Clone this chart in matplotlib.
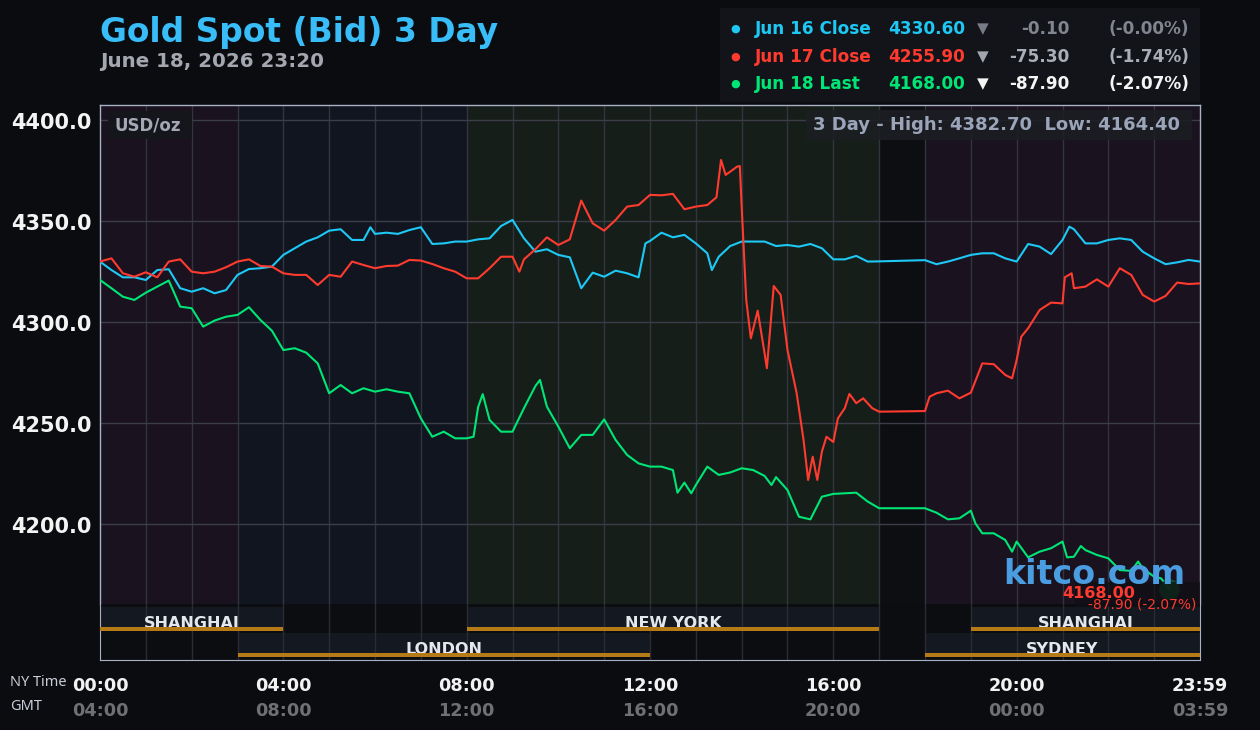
import numpy as np
import matplotlib
matplotlib.use('Agg')
import matplotlib.pyplot as plt
import matplotlib.transforms as mtransforms
from matplotlib.patches import Rectangle

# %%
# Data (hours NY time, USD/oz)
jun16_t = [0, 0.25, 0.5, 0.75, 1.0, 1.25, 1.5, 1.75, 2.0, 2.25, 2.5, 2.75, 3.0, 3.25, 3.5, 3.75,
           4.0, 4.25, 4.5, 4.75, 5.0, 5.25, 5.5, 5.75, 5.9, 6.0,
           6.25, 6.5, 6.75, 7.0, 7.25, 7.5, 7.75, 8.0, 8.25, 8.5, 8.75, 9.0, 9.25, 9.5, 9.75,
           10.0, 10.25, 10.5, 10.75, 11.0, 11.25, 11.5, 11.75, 11.9, 12.0,
           12.25, 12.5, 12.75, 13.0, 13.25, 13.35, 13.5, 13.75, 14.0, 14.25, 14.5, 14.75, 15.0,
           15.25, 15.5, 15.75, 16.0, 16.25, 16.5, 16.75, 17.0, 18.0,
           18.25, 18.5, 18.75, 19.0, 19.25, 19.5, 19.75, 20.0, 20.25, 20.5, 20.75, 21.0, 21.15,
           21.25, 21.5, 21.75, 22.0, 22.25, 22.5, 22.75, 23.0, 23.25, 23.5, 23.75, 24.0]
jun16_price = [4329.9, 4325.7, 4322.1, 4322.1, 4320.8, 4325.7, 4326.1, 4316.7, 4315.0, 4316.7, 4314.2, 4315.8, 4323.3, 4326.2, 4326.6, 4327.4,
               4333.2, 4336.5, 4339.8, 4341.9, 4345.2, 4345.9, 4340.6, 4340.6, 4346.9, 4343.6,
               4344.2, 4343.6, 4345.5, 4346.9, 4338.6, 4338.9, 4339.8, 4339.8, 4340.9, 4341.4, 4347.5, 4350.5, 4341.4, 4334.8, 4336.0,
               4333.2, 4332.0, 4316.7, 4324.4, 4322.4, 4325.4, 4324.1, 4322.1, 4338.9, 4340.1,
               4344.2, 4341.9, 4343.1, 4338.9, 4334.0, 4325.7, 4332.3, 4337.6, 4339.8, 4339.8, 4339.8, 4337.6, 4338.1,
               4337.3, 4338.6, 4336.5, 4331.0, 4331.0, 4332.7, 4329.9, 4330.0, 4330.6,
               4328.6, 4329.9, 4331.5, 4333.2, 4334.0, 4334.0, 4331.5, 4329.9, 4338.6, 4337.3, 4333.6, 4340.6, 4347.2,
               4345.9, 4338.9, 4338.9, 4340.6, 4341.4, 4340.6, 4334.8, 4331.5, 4328.6, 4329.5, 4330.7, 4329.9]

jun17_t = [0, 0.25, 0.5, 0.75, 1.0, 1.25, 1.5, 1.75, 2.0, 2.25, 2.5, 2.75, 3.0, 3.25, 3.5, 3.75,
           4.0, 4.25, 4.5, 4.75, 5.0, 5.25, 5.5, 5.75, 6.0,
           6.25, 6.5, 6.75, 7.0, 7.25, 7.5, 7.75, 8.0, 8.25, 8.5, 8.75, 9.0, 9.15, 9.25, 9.5, 9.75,
           10.0, 10.25, 10.5, 10.75, 11.0, 11.25, 11.5, 11.75, 12.0,
           12.25, 12.5, 12.75, 13.0, 13.25, 13.45, 13.55, 13.65, 13.75, 13.9, 13.96, 14.0, 14.1, 14.2,
           14.35, 14.5, 14.55, 14.7, 14.85, 15.0, 15.2, 15.35, 15.45, 15.55, 15.65, 15.75, 15.85,
           16.0, 16.1, 16.25, 16.35, 16.5, 16.65, 16.85, 17.0, 18.0,
           18.1, 18.25, 18.5, 18.75, 19.0, 19.25, 19.5, 19.75, 19.9, 20.0, 20.1, 20.25, 20.5, 20.75,
           21.0, 21.05, 21.2, 21.25, 21.5, 21.75, 22.0, 22.25, 22.5, 22.75, 23.0, 23.25, 23.5, 23.75, 24.0]
jun17_price = [4329.9, 4331.5, 4324.1, 4322.4, 4324.6, 4322.1, 4329.9, 4331.0, 4324.9, 4324.1, 4324.9, 4327.1, 4329.9, 4331.0, 4327.7, 4327.4,
               4324.1, 4323.3, 4323.3, 4318.3, 4323.3, 4322.4, 4329.9, 4328.2, 4326.6,
               4327.7, 4327.9, 4330.7, 4330.4, 4328.7, 4326.6, 4324.9, 4321.6, 4321.6, 4326.6, 4332.3, 4332.3, 4324.9, 4331.0, 4336.0, 4341.9,
               4338.1, 4340.9, 4360.1, 4348.8, 4345.2, 4350.5, 4357.1, 4357.9, 4362.9,
               4362.7, 4363.4, 4355.8, 4357.1, 4357.9, 4361.7, 4380.2, 4372.8, 4374.4, 4376.9, 4377.2, 4357.1, 4310.9, 4291.9,
               4305.6, 4284.5, 4277.1, 4317.8, 4313.4, 4286.1, 4264.7, 4241.6, 4221.8, 4233.3, 4221.8, 4235.8, 4243.2,
               4240.6, 4252.3, 4257.3, 4264.4, 4259.8, 4262.2, 4257.3, 4255.6, 4255.9,
               4263.0, 4264.7, 4266.0, 4262.2, 4265.0, 4279.5, 4279.1, 4273.8, 4272.1, 4281.2, 4292.7, 4296.9, 4305.9, 4309.6,
               4309.2, 4322.1, 4324.1, 4316.7, 4317.5, 4321.1, 4317.5, 4326.6, 4323.3, 4313.4, 4310.1, 4312.9, 4319.5, 4318.8, 4319.1]

jun18_t = [0, 0.25, 0.5, 0.75, 1.0, 1.25, 1.5, 1.75, 2.0, 2.25, 2.5, 2.75, 3.0, 3.25, 3.5, 3.75,
           4.0, 4.25, 4.5, 4.75, 5.0, 5.25, 5.5, 5.75, 6.0,
           6.25, 6.5, 6.75, 7.0, 7.25, 7.5, 7.75, 8.0, 8.15, 8.25, 8.35, 8.5, 8.75, 9.0, 9.25, 9.5, 9.6, 9.75,
           10.0, 10.25, 10.5, 10.75, 11.0, 11.25, 11.5, 11.75, 12.0,
           12.25, 12.5, 12.6, 12.75, 12.9, 13.0, 13.25, 13.5, 13.75, 14.0, 14.25, 14.5, 14.65, 14.75,
           15.0, 15.25, 15.4, 15.5, 15.75, 16.0, 16.25, 16.5, 16.75, 17.0, 18.0,
           18.25, 18.5, 18.75, 19.0, 19.1, 19.25, 19.5, 19.75, 19.9, 20.0, 20.25, 20.5, 20.75,
           21.0, 21.1, 21.25, 21.4, 21.5, 21.75, 22.0, 22.25, 22.5, 22.65, 22.75, 23.0, 23.15, 23.33]
jun18_price = [4320.8, 4316.7, 4312.5, 4310.9, 4314.5, 4317.5, 4320.5, 4307.6, 4306.8, 4297.7, 4300.7, 4302.6, 4303.5, 4307.3, 4301.0, 4295.7,
               4286.1, 4287.0, 4284.8, 4279.5, 4264.7, 4268.8, 4264.7, 4267.2, 4265.5,
               4266.7, 4265.5, 4264.7, 4252.3, 4243.2, 4245.7, 4242.4, 4242.4, 4243.2, 4257.9, 4264.3, 4251.5, 4245.7, 4245.7, 4257.3, 4268.3, 4271.3, 4258.1,
               4248.2, 4237.5, 4244.1, 4244.1, 4251.8, 4241.6, 4234.2, 4230.0, 4228.4,
               4228.4, 4226.7, 4215.5, 4220.5, 4215.2, 4219.3, 4228.4, 4224.3, 4225.5, 4227.6, 4226.7, 4223.8, 4219.3, 4223.2,
               4216.8, 4203.6, 4202.8, 4202.3, 4213.5, 4214.9, 4215.2, 4215.5, 4211.1, 4207.8, 4207.8,
               4205.6, 4202.3, 4202.8, 4206.6, 4200.3, 4195.4, 4195.4, 4192.1, 4186.3, 4191.3, 4183.5, 4186.3, 4188.0,
               4191.3, 4183.5, 4183.8, 4189.1, 4187.1, 4184.7, 4183.0, 4177.2, 4176.8, 4181.4, 4178.1, 4173.9, 4173.1, 4168.0]

legend_labels = ['Jun 16 Close', 'Jun 17 Close', 'Jun 18 Last']
legend_values = ['4330.60', '4255.90', '4168.00']
legend_changes = ['-0.10', '-75.30', '-87.90']
legend_pcts = ['(-0.00%)', '(-1.74%)', '(-2.07%)']

y_ticks = [4200, 4250, 4300, 4350, 4400]
ny_hours = [0, 4, 8, 12, 16, 20, 24]
ny_labels = ['00:00', '04:00', '08:00', '12:00', '16:00', '20:00', '23:59']
gmt_labels = ['04:00', '08:00', '12:00', '16:00', '20:00', '00:00', '03:59']

# background bands (start, end)
bands = [(0, 3, '#1a121f'), (3, 8, '#11151f'), (8, 17, '#161e19'), (17, 18, '#0d0e12'), (18, 24, '#1a121f')]
# sessions: (name, start, end, row)
sessions = [('SHANGHAI', 0, 4, 0), ('NEW YORK', 8, 17, 0), ('SHANGHAI', 19, 24, 0),
            ('LONDON', 3, 12, 1), ('SYDNEY', 18, 24, 1)]

# %%
plt.rcParams['font.family'] = ['DejaVu Sans']
W, H = 1260, 730
BG = '#0b0c10'
CYAN, RED, GREEN = '#1ec8f5', '#ff3b30', '#00e676'
BORDER = '#a9b1c6'

fig = plt.figure(figsize=(W / 100, H / 100), dpi=100)
fig.patch.set_facecolor(BG)

def fx(px):
    return px / W

def fy(py):
    return 1 - py / H

ax = fig.add_axes([fx(100), fy(604), 1100 / W, 499 / H])
sx = fig.add_axes([fx(100), fy(660), 1100 / W, 56 / H], sharex=ax)

# price panel
ax.set_facecolor('#0d0e12')
for a, b, c in bands:
    ax.axvspan(a, b, color=c, zorder=0, lw=0)
ax.set_xlim(0, 24)
ax.set_ylim(4160.4, 4407.4)
for h in range(1, 24):
    ax.axvline(h, color='#33353e', lw=1, zorder=1)
for v in y_ticks:
    ax.axhline(v, color='#3b3e48', lw=1, zorder=1)

ax.plot(jun16_t, jun16_price, color=CYAN, lw=1.5, zorder=3)
ax.plot(jun17_t, jun17_price, color=RED, lw=1.5, zorder=3)
ax.plot(jun18_t, jun18_price, color=GREEN, lw=1.5, zorder=3)
ax.scatter([jun18_t[-1]], [jun18_price[-1]], s=220, color='#0e5a2c', alpha=0.85, zorder=4, lw=0)

# y labels sit a few pixels below their grid line in the original
ylab_tr = ax.get_yaxis_transform()
for v in y_ticks:
    ax.annotate(f'{v:.1f}', (0, v), xycoords=ylab_tr, xytext=(-8, -3), textcoords='offset pixels',
                ha='right', va='center', fontsize=15, fontweight='bold', color='#f4f4f4',
                annotation_clip=False)
ax.set_yticks([])
ax.tick_params(axis='x', bottom=False, labelbottom=False)
for side in ['left', 'right', 'top']:
    ax.spines[side].set_color(BORDER)
    ax.spines[side].set_linewidth(1)
ax.spines['bottom'].set_visible(False)

# session panel
sx.set_facecolor('#0c0d11')
sx.set_ylim(56, 0)
sx.set_yticks([])
sx.tick_params(axis='x', bottom=False, labelbottom=False)
for name, a, b, row in sessions:
    top = 3 + row * 26
    sx.add_patch(Rectangle((a, top), b - a, 24, color='#141821', lw=0, zorder=1))
    sx.text((a + b) / 2, top + 20.5, name, ha='center', va='baseline', fontsize=11.5,
            fontweight='bold', color='#e4e7ee', zorder=2)
    sx.add_patch(Rectangle((a, top + 20), b - a, 4, color='#b67b17', lw=0, zorder=3))
for h in range(1, 24):
    sx.axvline(h, color='#2a2c34', lw=1, zorder=1.5)
for side in ['left', 'right', 'bottom']:
    sx.spines[side].set_color(BORDER)
sx.spines['top'].set_visible(False)

# time axis labels
tr = mtransforms.blended_transform_factory(sx.transData, fig.transFigure)
for h, ny, gmt in zip(ny_hours, ny_labels, gmt_labels):
    sx.text(h, fy(686), ny, transform=tr, ha='center', va='center', fontsize=12.7,
            fontweight='bold', color='#f2f2f2', clip_on=False)
    sx.text(h, fy(711), gmt, transform=tr, ha='center', va='center', fontsize=12.7,
            fontweight='bold', color='#6f7073', clip_on=False)
fig.text(fx(10), fy(683), 'NY Time', ha='left', va='center', fontsize=10.5, color='#c9cdd6', family='Noto Sans')
fig.text(fx(10), fy(707), 'GMT', ha='left', va='center', fontsize=10.5, color='#c9cdd6', family='Noto Sans')

# title
fig.text(fx(100), fy(42), 'Gold Spot (Bid) 3 Day', ha='left', va='baseline', fontsize=23.7,
         fontweight='bold', color='#38bdf8')
fig.text(fx(100), fy(67), 'June 18, 2026 23:20', ha='left', va='baseline', fontsize=14.3,
         fontweight='bold', color='#a5a7b0')

# legend panel
fig.add_artist(Rectangle((fx(720), fy(102)), 480 / W, 94 / H, transform=fig.transFigure,
                         color='#121419', lw=0))
row_y = [29, 57, 84]
row_cols = [CYAN, RED, GREEN]
tri_cols = ['#767b85', '#a2a6ae', '#f4f4f4']
chg_cols = ['#80858f', '#aaaeb6', '#f4f4f4']
for y, lab, val, chg, pct, c, tc, cc in zip(row_y, legend_labels, legend_values, legend_changes,
                                            legend_pcts, row_cols, tri_cols, chg_cols):
    fig.text(fx(735), fy(y), '\u25cf', ha='center', va='center', fontsize=8, color=c)
    fig.text(fx(755), fy(y), lab, ha='left', va='center', fontsize=12.2, fontweight='bold', color=c)
    fig.text(fx(965), fy(y), val, ha='right', va='center', fontsize=12.2, fontweight='bold', color=c)
    fig.text(fx(983), fy(y), '\u25bc', ha='center', va='center', fontsize=11, color=tc)
    fig.text(fx(1069), fy(y), chg, ha='right', va='center', fontsize=12.2, fontweight='bold', color=cc)
    fig.text(fx(1189), fy(y), pct, ha='right', va='center', fontsize=12.2, fontweight='bold', color=cc)

# unit and high/low boxes
fig.add_artist(Rectangle((fx(108), fy(139)), 84 / W, 28 / H, transform=fig.transFigure,
                         color='#15161b', lw=0))
fig.text(fx(115), fy(125), 'USD/oz', ha='left', va='center', fontsize=12, fontweight='bold', color='#a3a8b4')
fig.add_artist(Rectangle((fx(806), fy(140)), 386 / W, 30 / H, transform=fig.transFigure,
                         color='#1c1e23', alpha=0.9, lw=0))
fig.text(fx(813), fy(125), '3 Day - High: 4382.70  Low: 4164.40', ha='left', va='center',
         fontsize=13, fontweight='bold', color='#9ba5ba')

# watermark and last value
fig.add_artist(Rectangle((fx(1075), fy(607)), 125 / W, 25 / H, transform=fig.transFigure,
                         color='#0f1013', alpha=0.7, lw=0))
fig.text(fx(1003), fy(575), 'kitco.com', ha='left', va='center', fontsize=24, fontweight='bold',
         color='#4a9de0')
fig.text(fx(1135), fy(593), '4168.00', ha='right', va='center', fontsize=11.5, fontweight='bold', color=RED)
fig.text(fx(1196), fy(605), '-87.90 (-2.07%)', ha='right', va='center', fontsize=10, color=RED)

fig.savefig('out.png', dpi=100, facecolor=BG)
